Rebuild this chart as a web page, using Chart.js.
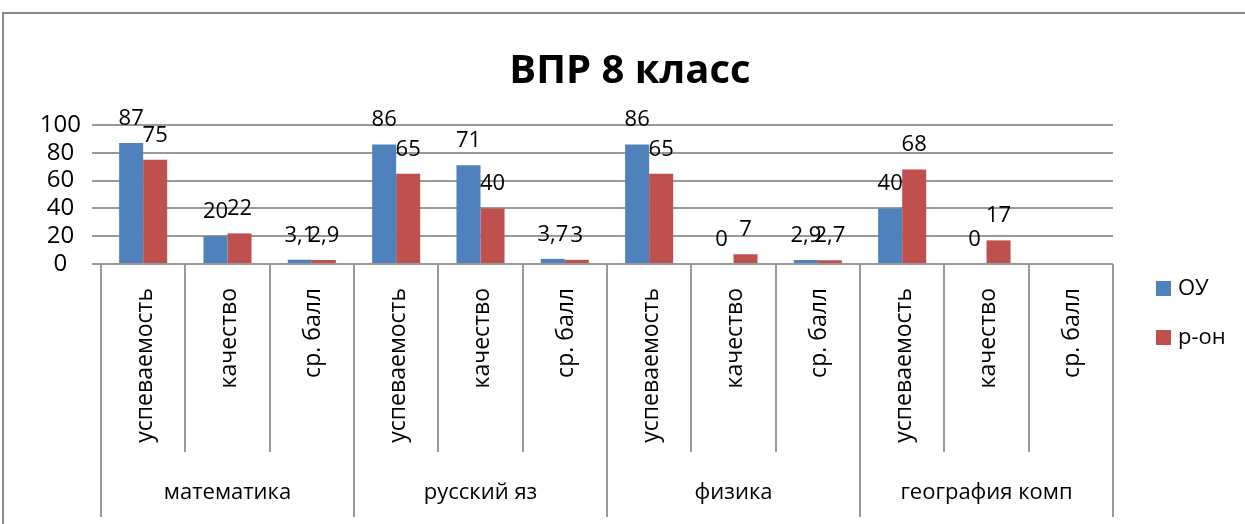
<!DOCTYPE html>
<html>
<head>
<meta charset="utf-8">
<script src="https://cdn.jsdelivr.net/npm/chart.js@4"></script>
<style>
  body { margin: 0; background: #fff; }
  canvas { display: block; }
</style>
</head>
<body>
<canvas id="vprChart" width="1245" height="524"></canvas>
<script>
// chart data
const title = 'ВПР 8 класс';
const groups = ['математика', 'русский яз', 'физика', 'география комп'];
const categories = [
    'успеваемость', 'качество', 'ср. балл',
    'успеваемость', 'качество', 'ср. балл',
    'успеваемость', 'качество', 'ср. балл',
    'успеваемость', 'качество', 'ср. балл'
];
const seriesNames = ['ОУ', 'р-он'];
const ouValues = [87, 20, 3.1, 86, 71, 3.7, 86, 0, 2.9, 40, 0, null];
const raionValues = [75, 22, 2.9, 65, 40, 3, 65, 7, 2.7, 68, 17, null];
const yMin = 0, yMax = 100, yStep = 20;

const FONT = '"Open Sans", sans-serif';
const LINE = '#999999';

// title, value labels, two-level category axis and legend, Excel style
const excelLook = {
    id: 'excelLook',
    afterDatasetsDraw(chart) {
        const ctx = chart.ctx;
        ctx.save();
        ctx.fillStyle = '#000';
        ctx.font = '22px ' + FONT;
        ctx.textAlign = 'center';
        ctx.textBaseline = 'alphabetic';
        chart.data.datasets.forEach((ds, di) => {
            const meta = chart.getDatasetMeta(di);
            meta.data.forEach((bar, i) => {
                const v = ds.data[i];
                if (v === null || v === undefined) return;
                ctx.fillText(String(v).replace('.', ','), bar.x, bar.y - 18);
            });
        });
        ctx.restore();
    },
    afterDraw(chart) {
        const ctx = chart.ctx;
        const area = chart.chartArea;
        const x = chart.scales.x;
        const half = (x.getPixelForTick(1) - x.getPixelForTick(0)) / 2;
        ctx.save();

        // outer frame
        ctx.strokeStyle = '#8a8a8a';
        ctx.lineWidth = 2;
        ctx.beginPath();
        ctx.moveTo(3, 524);
        ctx.lineTo(3, 13);
        ctx.lineTo(1245, 13);
        ctx.stroke();

        // title
        ctx.fillStyle = '#000';
        ctx.font = 'bold 40px ' + FONT;
        ctx.textAlign = 'center';
        ctx.textBaseline = 'alphabetic';
        ctx.fillText(title, 630, 83);

        // category separators
        ctx.strokeStyle = LINE;
        ctx.lineWidth = 2;
        for (let i = 0; i <= categories.length; i++) {
            const px = Math.round(x.getPixelForTick(Math.min(i, categories.length - 1)) + (i === categories.length ? half : -half));
            ctx.beginPath();
            ctx.moveTo(px, area.bottom);
            ctx.lineTo(px, i % 3 === 0 ? 517 : 452);
            ctx.stroke();
        }

        // rotated sub-category labels
        ctx.font = '23px ' + FONT;
        categories.forEach((lab, i) => {
            ctx.save();
            ctx.translate(x.getPixelForTick(i) + 2, 288);
            ctx.rotate(-Math.PI / 2);
            ctx.textAlign = 'right';
            ctx.textBaseline = 'middle';
            ctx.fillText(lab, 0, 0);
            ctx.restore();
        });

        // group labels
        ctx.font = '22px ' + FONT;
        ctx.textAlign = 'center';
        ctx.textBaseline = 'middle';
        groups.forEach((g, gi) => {
            const cx = (x.getPixelForTick(gi * 3) + x.getPixelForTick(gi * 3 + 2)) / 2;
            ctx.fillText(g, cx, 493);
        });

        // legend
        ctx.textAlign = 'left';
        chart.data.datasets.forEach((ds, di) => {
            const y = 289 + di * 49;
            ctx.fillStyle = ds.backgroundColor;
            ctx.fillRect(1156, y - 8, 15, 15);
            ctx.fillStyle = '#000';
            ctx.fillText(ds.label, 1178, y);
        });
        ctx.restore();
    }
};

new Chart(document.getElementById('vprChart'), {
    type: 'bar',
    data: {
        labels: categories,
        datasets: [
            { label: seriesNames[0], data: ouValues, backgroundColor: '#4F81BD' },
            { label: seriesNames[1], data: raionValues, backgroundColor: '#C0504D' }
        ]
    },
    options: {
        responsive: false,
        animation: false,
        events: [],
        categoryPercentage: 0.57,
        barPercentage: 1,
        layout: { padding: { top: 125, left: 0, right: 132, bottom: 0 } },
        plugins: {
            legend: { display: false },
            title: { display: false },
            tooltip: { enabled: false }
        },
        scales: {
            x: {
                ticks: { display: false },
                grid: { display: false },
                border: { display: false },
                afterFit(scale) { scale.height = 260; }
            },
            y: {
                min: yMin,
                max: yMax,
                ticks: {
                    stepSize: yStep,
                    autoSkip: false,
                    color: '#000',
                    font: { family: FONT, size: 24 },
                    crossAlign: 'center',
                    padding: 11
                },
                grid: { color: LINE, lineWidth: 2, tickLength: 9 },
                border: { display: false },
                afterFit(scale) { scale.width = 101; }
            }
        }
    },
    plugins: [excelLook]
});
</script>
</body>
</html>
